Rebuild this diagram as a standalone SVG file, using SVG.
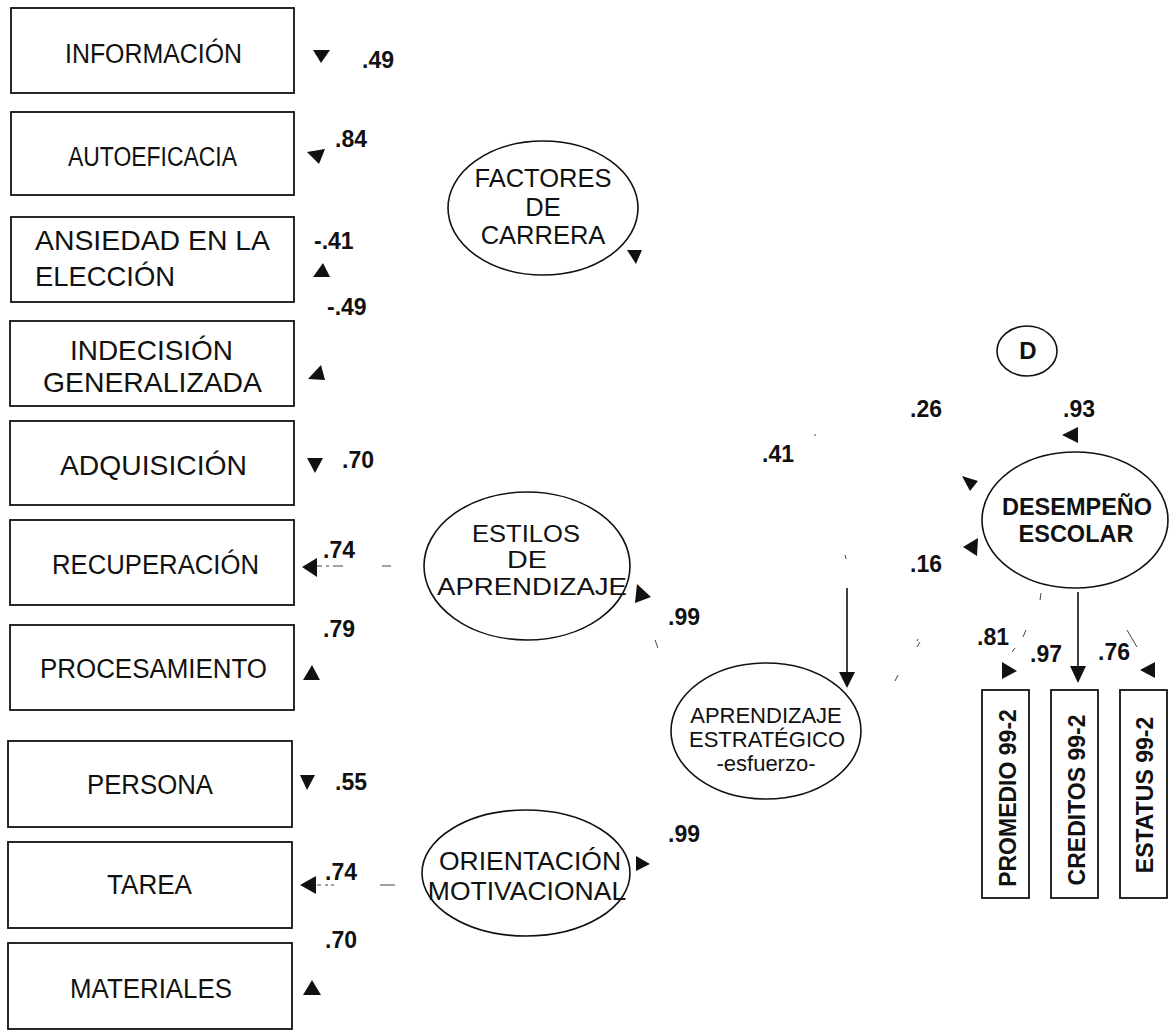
<svg xmlns="http://www.w3.org/2000/svg" width="1169" height="1031" viewBox="0 0 1169 1031">
  <style>
    .box { fill: #fff; stroke: #111; stroke-width: 1.8; }
    .ell { fill: #fff; stroke: #111; stroke-width: 1.6; }
    .lbl { font-family: "Liberation Sans", Arial, sans-serif; fill: #111; }
    .num { font-family: "Liberation Sans", Arial, sans-serif; font-weight: bold; font-size: 23px; fill: #111; }
    .bold { font-family: "Liberation Sans", Arial, sans-serif; font-weight: bold; fill: #111; }
    .head { fill: #111; stroke: none; }
    .wire { stroke: #111; stroke-width: 1.6; fill: none; }
    .frag { stroke: #444; stroke-width: 1; fill: none; }
  </style>
  <rect width="1169" height="1031" fill="#fff"/>

  <!-- observed indicators, left column -->
  <g id="n-informacion"><rect class="box" x="11" y="8" width="283" height="85"/><text class="lbl" x="65" y="63" font-size="27" textLength="177" lengthAdjust="spacingAndGlyphs">INFORMACIÓN</text></g>
  <g id="n-autoeficacia"><rect class="box" x="11" y="112" width="283" height="83"/><text class="lbl" x="68" y="166" font-size="27" textLength="169" lengthAdjust="spacingAndGlyphs">AUTOEFICACIA</text></g>
  <g id="n-ansiedad"><rect class="box" x="11" y="217" width="283" height="85"/><text class="lbl" x="35" y="250" font-size="28" textLength="235" lengthAdjust="spacingAndGlyphs">ANSIEDAD EN LA</text><text class="lbl" x="35" y="286" font-size="28" textLength="140" lengthAdjust="spacingAndGlyphs">ELECCIÓN</text></g>
  <g id="n-indecision"><rect class="box" x="10" y="321" width="284" height="85"/><text class="lbl" x="70" y="360" font-size="28" textLength="163" lengthAdjust="spacingAndGlyphs">INDECISIÓN</text><text class="lbl" x="43" y="392" font-size="28" textLength="219" lengthAdjust="spacingAndGlyphs">GENERALIZADA</text></g>
  <g id="n-adquisicion"><rect class="box" x="10" y="421" width="284" height="84"/><text class="lbl" x="60" y="475" font-size="28" textLength="187" lengthAdjust="spacingAndGlyphs">ADQUISICIÓN</text></g>
  <g id="n-recuperacion"><rect class="box" x="10" y="520" width="284" height="85"/><text class="lbl" x="52" y="574" font-size="27" textLength="207" lengthAdjust="spacingAndGlyphs">RECUPERACIÓN</text></g>
  <g id="n-procesamiento"><rect class="box" x="10" y="625" width="284" height="85"/><text class="lbl" x="40" y="678" font-size="27" textLength="227" lengthAdjust="spacingAndGlyphs">PROCESAMIENTO</text></g>
  <g id="n-persona"><rect class="box" x="8" y="741" width="284" height="86"/><text class="lbl" x="87" y="794" font-size="27" textLength="126" lengthAdjust="spacingAndGlyphs">PERSONA</text></g>
  <g id="n-tarea"><rect class="box" x="8" y="842" width="284" height="86"/><text class="lbl" x="107" y="894" font-size="27" textLength="85" lengthAdjust="spacingAndGlyphs">TAREA</text></g>
  <g id="n-materiales"><rect class="box" x="8" y="943" width="284" height="86"/><text class="lbl" x="70" y="998" font-size="27" textLength="162" lengthAdjust="spacingAndGlyphs">MATERIALES</text></g>

  <!-- latent factors -->
  <g id="n-factores"><ellipse class="ell" cx="543" cy="208" rx="95" ry="67"/>
    <text class="lbl" font-size="25.5" text-anchor="middle"><tspan x="543" y="187">FACTORES</tspan><tspan x="543" y="216">DE</tspan><tspan x="543" y="244">CARRERA</tspan></text></g>
  <g id="n-estilos"><ellipse class="ell" cx="527" cy="566" rx="103" ry="74"/>
    <text class="lbl" x="472" y="542" font-size="23.5" textLength="108" lengthAdjust="spacingAndGlyphs">ESTILOS</text>
    <text class="lbl" x="507" y="568" font-size="23.5" textLength="40" lengthAdjust="spacingAndGlyphs">DE</text>
    <text class="lbl" x="437" y="595" font-size="23.5" textLength="190" lengthAdjust="spacingAndGlyphs">APRENDIZAJE</text></g>
  <g id="n-orientacion"><ellipse class="ell" cx="526" cy="873" rx="104" ry="63"/>
    <text class="lbl" font-size="26.5" text-anchor="middle"><tspan x="530" y="870">ORIENTACIÓN</tspan><tspan x="527" y="900">MOTIVACIONAL</tspan></text></g>
  <g id="n-aprendizaje"><ellipse class="ell" cx="766" cy="731" rx="95" ry="68"/>
    <text class="lbl" font-size="22" text-anchor="middle"><tspan x="766" y="723">APRENDIZAJE</tspan><tspan x="767" y="747">ESTRATÉGICO</tspan><tspan x="766" y="771">-esfuerzo-</tspan></text></g>
  <g id="n-desempeno"><ellipse class="ell" cx="1075" cy="520" rx="93" ry="68"/>
    <text class="bold" font-size="23.5" text-anchor="middle"><tspan x="1077" y="515">DESEMPEÑO</tspan><tspan x="1076" y="542">ESCOLAR</tspan></text></g>
  <g id="n-d"><ellipse class="ell" cx="1027" cy="351" rx="30" ry="25"/><text class="bold" x="1028" y="359" font-size="24" text-anchor="middle">D</text></g>

  <!-- outcome indicators -->
  <g id="n-promedio"><rect class="box" x="982" y="690" width="47" height="208"/><text class="bold" font-size="23" text-anchor="middle" transform="translate(1016 798) rotate(-90)">PROMEDIO 99-2</text></g>
  <g id="n-creditos"><rect class="box" x="1051" y="690" width="47" height="208"/><text class="bold" font-size="23" text-anchor="middle" transform="translate(1085 800) rotate(-90)">CREDITOS 99-2</text></g>
  <g id="n-estatus"><rect class="box" x="1120" y="690" width="47" height="208"/><text class="bold" font-size="23" text-anchor="middle" transform="translate(1153 795) rotate(-90)">ESTATUS 99-2</text></g>

  <!-- connectors: remaining line work and arrowheads -->
  <g id="connectors">
    <line class="wire" x1="847" y1="588" x2="847" y2="674"/>
    <line class="wire" x1="1078" y1="592" x2="1078" y2="667"/>
    <path class="frag" d="M317 566h5M326 566h3M333 566h10M382 566h9"/>
    <path class="frag" d="M317 885h4M325 885h3M331 885h3M380 885h15"/>
    <path class="frag" d="M655 640l3 8M845 555l1 4M898 675l-3 6M920 642l-3 5M1041 593l-1 7M1026 630l-3 7M1015 648l-3 4M1127 630l10 17M917 641l1 -2M815 434l0 2"/>

    <polygon class="head" points="313,50 330,50 321,63"/>
    <polygon class="head" points="307,152 325,149 319,164"/>
    <polygon class="head" points="323,263 330,277 313,277"/>
    <polygon class="head" points="321,365 325,380 308,379"/>
    <polygon class="head" points="307,458 323,458 315,473"/>
    <polygon class="head" points="302,567 317,558 317,577"/>
    <polygon class="head" points="312,665 320,680 303,680"/>
    <polygon class="head" points="300,775 315,775 307,790"/>
    <polygon class="head" points="300,885 316,876 316,894"/>
    <polygon class="head" points="312,980 321,995 303,995"/>
    <polygon class="head" points="627,250 642,250 636,264"/>
    <polygon class="head" points="637,584 651,597 635,603"/>
    <polygon class="head" points="636,856 650,864 636,871"/>
    <polygon class="head" points="839,672 855,672 847,688"/>
    <polygon class="head" points="962,476 978,481 970,491"/>
    <polygon class="head" points="963,547 978,538 977,556"/>
    <polygon class="head" points="1062,435 1078,427 1078,443"/>
    <polygon class="head" points="1002,662 1017,671 1002,679"/>
    <polygon class="head" points="1070,666 1086,666 1078,683"/>
    <polygon class="head" points="1140,670 1155,662 1155,678"/>
  </g>

  <!-- path coefficients -->
  <g id="coefficients">
    <text class="num" x="362" y="68">.49</text>
    <text class="num" x="335" y="147">.84</text>
    <text class="num" x="314" y="249">-.41</text>
    <text class="num" x="327" y="315">-.49</text>
    <text class="num" x="342" y="468">.70</text>
    <text class="num" x="323" y="558">.74</text>
    <text class="num" x="323" y="637">.79</text>
    <text class="num" x="335" y="790">.55</text>
    <text class="num" x="325" y="880">.74</text>
    <text class="num" x="325" y="948">.70</text>
    <text class="num" x="668" y="625">.99</text>
    <text class="num" x="668" y="842">.99</text>
    <text class="num" x="762" y="462">.41</text>
    <text class="num" x="910" y="417">.26</text>
    <text class="num" x="910" y="572">.16</text>
    <text class="num" x="1063" y="417">.93</text>
    <text class="num" x="977" y="645">.81</text>
    <text class="num" x="1030" y="662">.97</text>
    <text class="num" x="1098" y="660">.76</text>
  </g>
</svg>
